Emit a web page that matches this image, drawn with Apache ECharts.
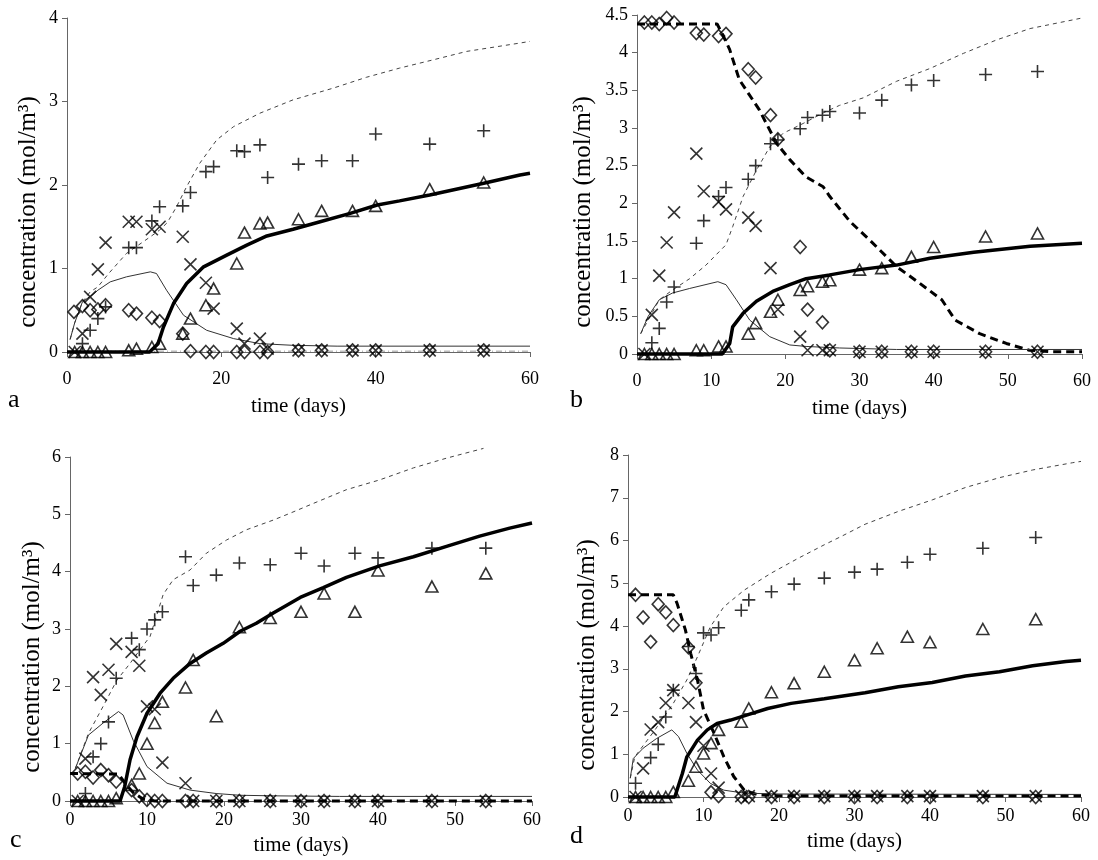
<!DOCTYPE html>
<html>
<head>
<meta charset="utf-8">
<script src="https://cdn.jsdelivr.net/npm/echarts@6/dist/echarts.min.js"></script>
<style>html,body{margin:0;padding:0;background:#fff;}#c{width:1098px;height:860px;}</style>
</head>
<body>
<div id="c"></div>
<script>
// ---------- Panel a ----------
const aDiamond = [[0.9,0.48],[2,0.55],[3,0.50],[4,0.51],[5,0.56],[8,0.50],[9,0.46],[11,0.41],[12,0.37],[15,0.22],[16,0.01],[18,0],[19,0],[22,0],[23,0],[25,0],[26,0],[30,0.02],[33,0.02],[37,0.02],[40,0.02],[47,0.02],[54,0.02]];
const aPlus = [[2,0.10],[3,0.26],[4,0.40],[5,0.54],[8,1.25],[9,1.25],[11,1.57],[12,1.74],[15,1.75],[16,1.91],[18,2.16],[19,2.22],[22,2.41],[23,2.40],[25,2.48],[26,2.09],[30,2.25],[33,2.29],[37,2.29],[40,2.61],[47,2.49],[54,2.65]];
const aCross = [[1,0],[2,0.22],[3,0.66],[4,0.99],[5,1.31],[8,1.56],[9,1.56],[11,1.47],[12,1.50],[15,1.38],[16,1.05],[18,0.83],[19,0.52],[22,0.28],[23,0.10],[25,0.16],[26,0.04],[30,0.02],[33,0.02],[37,0.02],[40,0.02],[47,0.02],[54,0.02]];
const aTri = [[1,0],[2,0],[3,0],[4,0],[5,0],[8,0.02],[9,0.04],[11,0.06],[12,0.10],[15,0.22],[16,0.40],[18,0.56],[19,0.76],[22,1.06],[23,1.43],[25,1.54],[26,1.55],[30,1.59],[33,1.69],[37,1.69],[40,1.75],[47,1.95],[54,2.03]];
const aModelPlus = [[0.4,0.15],[1,0.35],[2,0.6],[3,0.72],[4,0.78],[5.4,0.94],[7.7,1.18],[10.8,1.38],[12,1.46],[13,1.55],[14.2,1.74],[15.5,1.98],[17.2,2.26],[19.4,2.54],[21.6,2.70],[25,2.86],[29.3,3.02],[34.5,3.16],[38.8,3.29],[43.1,3.40],[47.5,3.50],[51.8,3.60],[58.7,3.70],[60,3.72]];
const aModelCross = [[0.4,0.15],[1,0.35],[2,0.6],[3.5,0.70],[4,0.74],[5.6,0.84],[7.7,0.90],[10.8,0.96],[11.6,0.94],[12.9,0.74],[15.1,0.44],[18.1,0.26],[21.6,0.16],[25,0.10],[29.3,0.08],[35,0.07],[60,0.07]];
const aModelTri = [[0,0],[10.7,0],[11.8,0.1],[12.5,0.3],[13.8,0.58],[15.5,0.82],[17.7,1.02],[20.7,1.16],[23.3,1.28],[25.9,1.39],[29.3,1.47],[32.8,1.56],[36.7,1.66],[40.2,1.76],[43.1,1.81],[47,1.88],[54,2.02],[58.7,2.12],[60,2.14]];
const aModelDiamond = [[0,0.01],[60,0.01]];

// ---------- Panel b ----------
const bDiamond = [[1,4.40],[2,4.40],[3,4.38],[4,4.46],[5,4.40],[8,4.26],[9,4.24],[11,4.22],[12,4.25],[15,3.78],[16,3.67],[18,3.17],[19,2.85],[22,1.42],[23,0.59],[25,0.42],[26,0.05],[30,0.03],[33,0.03],[37,0.03],[40,0.03],[47,0.03],[54,0.03]];
const bPlus = [[2,0.15],[3,0.34],[4,0.69],[5,0.89],[8,1.47],[9,1.77],[11,2.09],[12,2.21],[15,2.32],[16,2.50],[18,2.79],[19,2.84],[22,2.99],[23,3.14],[25,3.17],[26,3.22],[30,3.20],[33,3.37],[37,3.57],[40,3.63],[47,3.71],[54,3.75]];
const bCross = [[1,0],[2,0.52],[3,1.04],[4,1.48],[5,1.88],[8,2.66],[9,2.16],[11,2.02],[12,1.92],[15,1.81],[16,1.70],[18,1.14],[19,0.59],[22,0.23],[23,0.05],[25,0.05],[26,0.05],[30,0.03],[33,0.03],[37,0.03],[40,0.03],[47,0.03],[54,0.03]];
const bTri = [[1,0],[2,0],[3,0],[4,0],[5,0],[8,0.05],[9,0.05],[11,0.10],[12,0.10],[15,0.27],[16,0.41],[18,0.56],[19,0.72],[22,0.85],[23,0.90],[25,0.96],[26,0.98],[30,1.12],[33,1.14],[37,1.29],[40,1.42],[47,1.56],[54,1.60]];
const bModelDiamond = [[0,4.38],[10.8,4.38],[11.5,4.25],[12.5,4.04],[13.8,3.64],[16.5,3.24],[18.8,2.80],[20.6,2.58],[22.8,2.35],[25.1,2.22],[26,2.09],[28.7,1.76],[31.4,1.51],[35,1.16],[38.1,0.94],[41.1,0.72],[42.9,0.45],[46.2,0.27],[49.8,0.14],[52.9,0.05],[56,0.03],[60,0.03]];
const bModelPlus = [[0.5,0.27],[1.5,0.45],[3,0.72],[4.8,0.85],[7.1,1.0],[9.3,1.18],[12,1.45],[12.9,1.69],[14.3,2.09],[16.1,2.44],[17.9,2.75],[19.7,2.93],[22.4,3.06],[25.1,3.2],[27.3,3.3],[30.5,3.40],[35,3.62],[39.5,3.79],[44,3.99],[48.5,4.17],[53,4.32],[60,4.46]];
const bModelCross = [[0.5,0.27],[1.5,0.5],[3,0.72],[4.8,0.81],[7.1,0.87],[10.9,0.96],[12,0.92],[13.4,0.72],[15.2,0.45],[17.9,0.23],[20.6,0.12],[22.8,0.10],[27.3,0.08],[35,0.06],[60,0.06]];
const bModelTri = [[0,0],[11.5,0],[12.5,0.14],[12.9,0.36],[14.3,0.54],[16.1,0.70],[18.3,0.83],[20.6,0.92],[22.8,1.0],[26,1.05],[30,1.12],[35,1.18],[39.5,1.27],[45.4,1.35],[53,1.43],[60,1.47]];

// ---------- Panel c ----------
const cDiamond = [[1,0.48],[2,0.51],[3,0.41],[4,0.54],[5,0.45],[6,0.34],[8,0.19],[9,0.08],[10,0.02],[11,0],[12,0],[15,0],[16,0],[19,0],[22,0],[26,0],[30,0],[33,0],[37,0],[40,0],[47,0],[54,0]];
const cPlus = [[2,0.13],[3,0.77],[4,1.0],[5,1.38],[6,2.14],[8,2.84],[9,2.64],[10,3.0],[11,3.16],[12,3.30],[15,4.26],[16,3.76],[19,3.94],[22,4.15],[26,4.12],[30,4.32],[33,4.10],[37,4.32],[40,4.24],[47,4.41],[54,4.41]];
const cCross = [[1,0],[2,0.74],[3,2.16],[4,1.85],[5,2.29],[6,2.74],[8,2.6],[9,2.36],[10,1.65],[11,1.60],[12,0.67],[15,0.31],[16,0],[19,0],[22,0],[26,0],[30,0],[33,0],[37,0],[40,0],[47,0],[54,0]];
const cTri = [[1,0],[2,0],[3,0],[4,0],[5,0],[6,0.05],[8,0.28],[9,0.48],[10,1.0],[11,1.36],[12,1.73],[15,1.98],[16,2.46],[19,1.48],[22,3.03],[26,3.19],[30,3.30],[33,3.62],[37,3.30],[40,4.02],[47,3.74],[54,3.97]];
const cModelPlus = [[0.7,0.57],[2.4,1.18],[4.3,1.65],[6.1,2.11],[7.8,2.40],[9.1,2.64],[10.4,2.87],[12.1,3.6],[13.4,3.86],[15.6,4.03],[17.7,4.32],[20.3,4.55],[22.9,4.73],[26.4,4.90],[28.6,5.02],[31.6,5.19],[35.9,5.43],[40.2,5.60],[44.6,5.81],[48.9,5.98],[53.7,6.15]];
const cModelCross = [[0.7,0.57],[2.4,1.15],[4.3,1.36],[6.3,1.56],[6.9,1.5],[8.2,1.06],[10,0.6],[12.6,0.31],[15.6,0.19],[19,0.13],[22.1,0.10],[26.4,0.09],[35,0.08],[60,0.08]];
const cModelTri = [[0,0],[6.5,0],[7.1,0.25],[7.8,0.72],[8.7,1.12],[10,1.53],[11.7,1.88],[13.4,2.14],[15.6,2.40],[17.7,2.58],[19.9,2.75],[22.1,2.96],[24.2,3.10],[26.4,3.28],[29.9,3.55],[32.9,3.72],[35.9,3.90],[40.2,4.10],[44.6,4.26],[48.9,4.44],[53.2,4.62],[57.1,4.76],[60,4.85]];
const cModelDiamond = [[0,0.48],[6.3,0.47],[7.2,0.3],[8.2,0.15],[9.5,0.03],[11,0],[60,0]];

// ---------- Panel d ----------
const dDiamond = [[1,4.73],[2,4.20],[3,3.63],[4,4.51],[5,4.32],[6,4.02],[8,3.50],[9,2.67],[11,0.11],[12,0.02],[15,0],[16,0],[19,0],[22,0],[26,0],[30,0],[33,0],[37,0],[40,0],[47,0],[54,0]];
const dPlus = [[1,0.32],[3,0.92],[4,1.23],[5,1.87],[6,2.5],[8,3.52],[9,2.89],[10,3.84],[11,3.79],[12,3.96],[15,4.37],[16,4.61],[19,4.80],[22,4.98],[26,5.12],[30,5.26],[33,5.33],[37,5.49],[40,5.68],[47,5.82],[54,6.07]];
const dCross = [[1,0],[2,0.67],[3,1.58],[4,1.75],[5,2.2],[6,2.5],[8,2.2],[9,1.75],[10,1.2],[11,0.55],[12,0.22],[15,0.02],[16,0.02],[19,0.02],[22,0.02],[26,0.02],[30,0.02],[33,0.02],[37,0.02],[40,0.02],[47,0.02],[54,0.02]];
const dTri = [[1,0],[2,0],[3,0],[4,0],[5,0],[6,0.12],[8,0.38],[9,0.71],[10,1.02],[11,1.26],[12,1.57],[15,1.76],[16,2.07],[19,2.45],[22,2.66],[26,2.93],[30,3.20],[33,3.48],[37,3.75],[40,3.62],[47,3.93],[54,4.16]];
const dModelPlus = [[0.3,0.44],[0.9,0.94],[2,1.2],[3.5,1.55],[6,2.19],[7.8,2.74],[9.2,3.28],[10.9,3.98],[12.7,4.45],[15.4,4.84],[18.9,5.23],[22.5,5.58],[26,5.9],[28.3,6.1],[31.4,6.38],[35.8,6.68],[40.3,6.95],[44.7,7.24],[49.2,7.47],[53.6,7.65],[58.9,7.82],[60,7.85]];
const dModelCross = [[0.3,0.44],[0.7,0.9],[2,1.14],[3.8,1.37],[5.8,1.57],[6.7,1.41],[7.8,1.02],[9.2,0.63],[10.9,0.32],[12.7,0.16],[15.4,0.09],[20,0.07],[60,0.06]];
const dModelTri = [[0,0],[6.2,0],[7.2,0.55],[7.8,0.94],[9.2,1.33],[10.5,1.57],[11.8,1.72],[13.6,1.80],[15.8,1.92],[18.5,2.07],[21.6,2.19],[26,2.30],[31.4,2.44],[35.8,2.58],[40.3,2.68],[44.7,2.83],[49.2,2.93],[53.6,3.07],[58,3.17],[60,3.2]];
const dModelDiamond = [[0,4.73],[6,4.73],[6.5,4.53],[7.6,3.91],[8.3,3.36],[9.2,2.74],[10,2.04],[11.4,1.49],[12.7,0.94],[14,0.48],[15.4,0.16],[17.2,0.05],[20,0.03],[60,0.03]];

// axis settings
const yMax = [4, 4.5, 6, 8];
const yInterval = [1, 0.5, 1, 1];
const xInterval = [20, 10, 10, 10];
const panelLetters = ['a', 'b', 'c', 'd'];
const xName = 'time (days)';
const yName = 'concentration (mol/m³)';

const FONT = 'Liberation Serif';
const grids = [
  {left: 67, top: 18, width: 463, height: 334},
  {left: 637, top: 15, width: 445, height: 339},
  {left: 70, top: 457, width: 462, height: 344},
  {left: 628, top: 455, width: 453, height: 342}
];
const xLabelMargin = [18, 18, 10, 10];
const xNameGap = [44, 44, 34, 34];
const yNamePos = [[28, 212], [583, 212], [32, 657], [587, 655]];
const letterPos = [[8, 400], [570, 400], [10, 840], [570, 836]];

const SYM = {
  plus: 'path://M5 0L5 10M0 5L10 5',
  cross: 'path://M0 0L10 10M10 0L0 10',
  diamond: 'path://M5 0L10 5L5 10L0 5Z',
  tri: 'path://M5 0L10 9L0 9Z'
};

function scatter(i, data, sym, size) {
  return {type: 'scatter', xAxisIndex: i, yAxisIndex: i, data: data, symbol: SYM[sym], symbolSize: size,
    itemStyle: {color: 'none', borderColor: '#000', borderWidth: 1.6}, z: 5, clip: false};
}
function line(i, data, kind) {
  const st = {
    thick: {color: '#000', width: 3.5, type: 'solid'},
    thickDash: {color: '#000', width: 3, type: [8, 5]},
    thinDash: {color: '#444', width: 1, type: [4, 4]},
    thin: {color: '#333', width: 1, type: 'solid'},
    faint: {color: '#999', width: 1, type: [6, 3, 1, 3]}
  }[kind];
  return {type: 'line', xAxisIndex: i, yAxisIndex: i, data: data, symbol: 'none', showSymbol: false,
    lineStyle: st, z: 3, clip: false, silent: true};
}

const panels = [
  {d: aDiamond, p: aPlus, x: aCross, t: aTri, mp: aModelPlus, mx: aModelCross, mt: aModelTri, md: aModelDiamond, mdKind: 'faint'},
  {d: bDiamond, p: bPlus, x: bCross, t: bTri, mp: bModelPlus, mx: bModelCross, mt: bModelTri, md: bModelDiamond, mdKind: 'thickDash'},
  {d: cDiamond, p: cPlus, x: cCross, t: cTri, mp: cModelPlus, mx: cModelCross, mt: cModelTri, md: cModelDiamond, mdKind: 'thickDash'},
  {d: dDiamond, p: dPlus, x: dCross, t: dTri, mp: dModelPlus, mx: dModelCross, mt: dModelTri, md: dModelDiamond, mdKind: 'thickDash'}
];

const series = [];
panels.forEach((P, i) => {
  series.push(line(i, P.md, P.mdKind));
  series.push(line(i, P.mp, 'thinDash'));
  series.push(line(i, P.mx, 'thin'));
  series.push(line(i, P.mt, 'thick'));
  series.push(scatter(i, P.d, 'diamond', [12, 13]));
  series.push(scatter(i, P.p, 'plus', 13));
  series.push(scatter(i, P.x, 'cross', 12));
  series.push(scatter(i, P.t, 'tri', [12, 11]));
});

const axisLineStyle = {color: '#666', width: 1};
const xAxis = grids.map((g, i) => ({
  gridIndex: i, type: 'value', min: 0, max: 60, interval: xInterval[i],
  name: xName, nameLocation: 'middle', nameGap: xNameGap[i],
  nameTextStyle: {fontFamily: FONT, fontSize: 21, color: '#000'},
  axisLine: {show: true, onZero: false, lineStyle: axisLineStyle},
  axisTick: {show: true, length: 5, inside: false, lineStyle: {color: '#666'}},
  axisLabel: {fontFamily: FONT, fontSize: 18, color: '#000', margin: xLabelMargin[i]},
  splitLine: {show: false}
}));
const yAxis = grids.map((g, i) => ({
  gridIndex: i, type: 'value', min: 0, max: yMax[i], interval: yInterval[i],
  axisLine: {show: true, onZero: false, lineStyle: axisLineStyle},
  axisTick: {show: true, length: 5, inside: false, lineStyle: {color: '#666'}},
  axisLabel: {fontFamily: FONT, fontSize: 18, color: '#000', margin: 9},
  splitLine: {show: false}
}));

const graphic = [];
panelLetters.forEach((L, i) => {
  graphic.push({
    type: 'text', x: letterPos[i][0], y: letterPos[i][1],
    style: {text: L, font: '26px "Liberation Serif"', fill: '#000', verticalAlign: 'middle'}
  });
  graphic.push({
    type: 'text', x: yNamePos[i][0], y: yNamePos[i][1], rotation: Math.PI / 2,
    style: {text: yName, font: '25px "Liberation Serif"', fill: '#000', align: 'center', verticalAlign: 'middle'}
  });
});

const chart = echarts.init(document.getElementById('c'), null, {renderer: 'canvas'});
chart.setOption({
  animation: false,
  backgroundColor: '#fff',
  grid: grids.map(g => Object.assign({containLabel: false, outerBoundsMode: 'none'}, g)),
  xAxis: xAxis,
  yAxis: yAxis,
  series: series,
  graphic: graphic
});
</script>
</body>
</html>
